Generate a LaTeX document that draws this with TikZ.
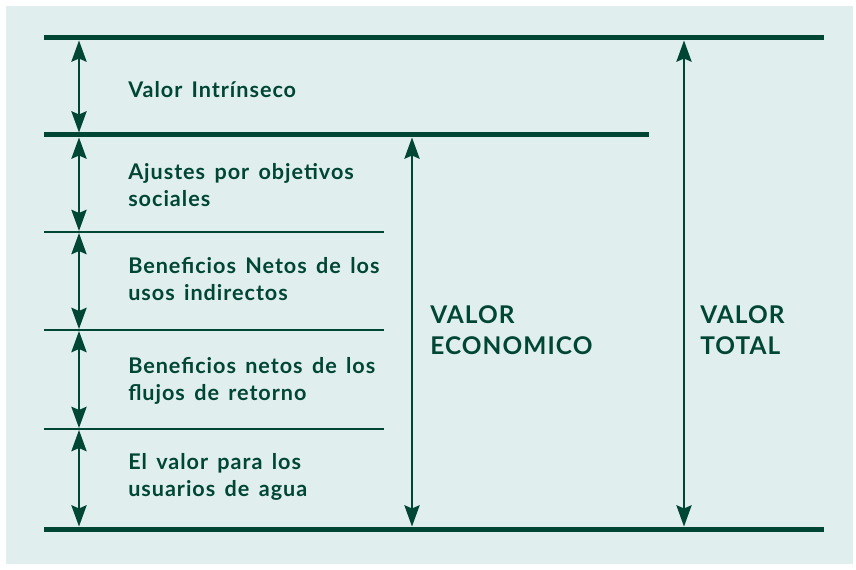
\documentclass[tikz,border=0pt]{standalone}
\usepackage{fontspec}
\setmainfont{Lato}[LetterSpace=4.5,WordSpace=1.5]
\usetikzlibrary{arrows.meta}

\definecolor{verde}{RGB}{0,70,52}
\definecolor{fondo}{RGB}{224,238,238}

\tikzset{
  regla/.style={verde, line width=3.75pt},
  reglafina/.style={verde, line width=1.5pt},
  punta/.tip={Stealth[length=16pt,width=11.5pt,inset=2.5pt]},
  flecha/.style={verde, line width=1.1pt, punta-punta},
  rotulo/.style={text=verde, anchor=base west, align=left, inner sep=0pt,
    font=\bfseries\fontsize{16.2}{20.25}\selectfont},
  rotulogrande/.style={rotulo, font=\bfseries\fontsize{18.3}{23.25}\selectfont}
}

\begin{document}
\begin{tikzpicture}[x=0.75pt,y=-0.75pt]
\useasboundingbox (0,0) rectangle (856,570);
\fill[fondo] (6,6) rectangle (853,564);

% niveles
\coordinate (n0i) at (44,38);  \coordinate (n0d) at (824,38);
\coordinate (n1i) at (44,135); \coordinate (n1d) at (649,135);
\coordinate (n2i) at (44,232); \coordinate (n2d) at (384,232);
\coordinate (n3i) at (44,330); \coordinate (n3d) at (384,330);
\coordinate (n4i) at (44,429); \coordinate (n4d) at (384,429);
\coordinate (n5i) at (44,529); \coordinate (n5d) at (824,529);

\draw[regla] (n0i) -- (n0d);
\draw[regla] (n1i) -- (n1d);
\draw[reglafina] (n2i) -- (n2d);
\draw[reglafina] (n3i) -- (n3d);
\draw[reglafina] (n4i) -- (n4d);
\draw[regla] (n5i) -- (n5d);

% flechas de la izquierda
\coordinate (a0) at (79,40.5);
\coordinate (a1s) at (79,132.5); \coordinate (a1i) at (79,137.5);
\coordinate (a2s) at (79,231);   \coordinate (a2i) at (79,233);
\coordinate (a3s) at (79,329);   \coordinate (a3i) at (79,331);
\coordinate (a4s) at (79,428);   \coordinate (a4i) at (79,430);
\coordinate (a5) at (79,526.5);
\draw[flecha] (a0) -- (a1s);
\draw[flecha] (a1i) -- (a2s);
\draw[flecha] (a2i) -- (a3s);
\draw[flecha] (a3i) -- (a4s);
\draw[flecha] (a4i) -- (a5);

% flechas de los totales
\coordinate (e0) at (412,137.5); \coordinate (e1) at (412,526.5);
\coordinate (t0) at (684,40.5);  \coordinate (t1) at (684,526.5);
\draw[flecha] (e0) -- (e1);
\draw[flecha] (t0) -- (t1);

% textos (base = ultima linea)
\node[rotulo] (intrinseco) at (128,98) {Valor Intrínseco};
\node[rotulo] (ajustes) at (128,207) {Ajustes por objetivos\\sociales};
\node[rotulo] (indirectos) at (128,300) {Beneficios Netos de los\\usos indirectos};
\node[rotulo] (retorno) at (128,400) {Beneficios netos de los\\flujos de retorno};
\node[rotulo] (usuarios) at (128,496) {El valor para los\\usuarios de agua};
\node[rotulogrande] (economico) at (430,354) {VALOR\\ECONOMICO};
\node[rotulogrande] (total) at (700,354) {VALOR\\TOTAL};
\end{tikzpicture}
\end{document}
